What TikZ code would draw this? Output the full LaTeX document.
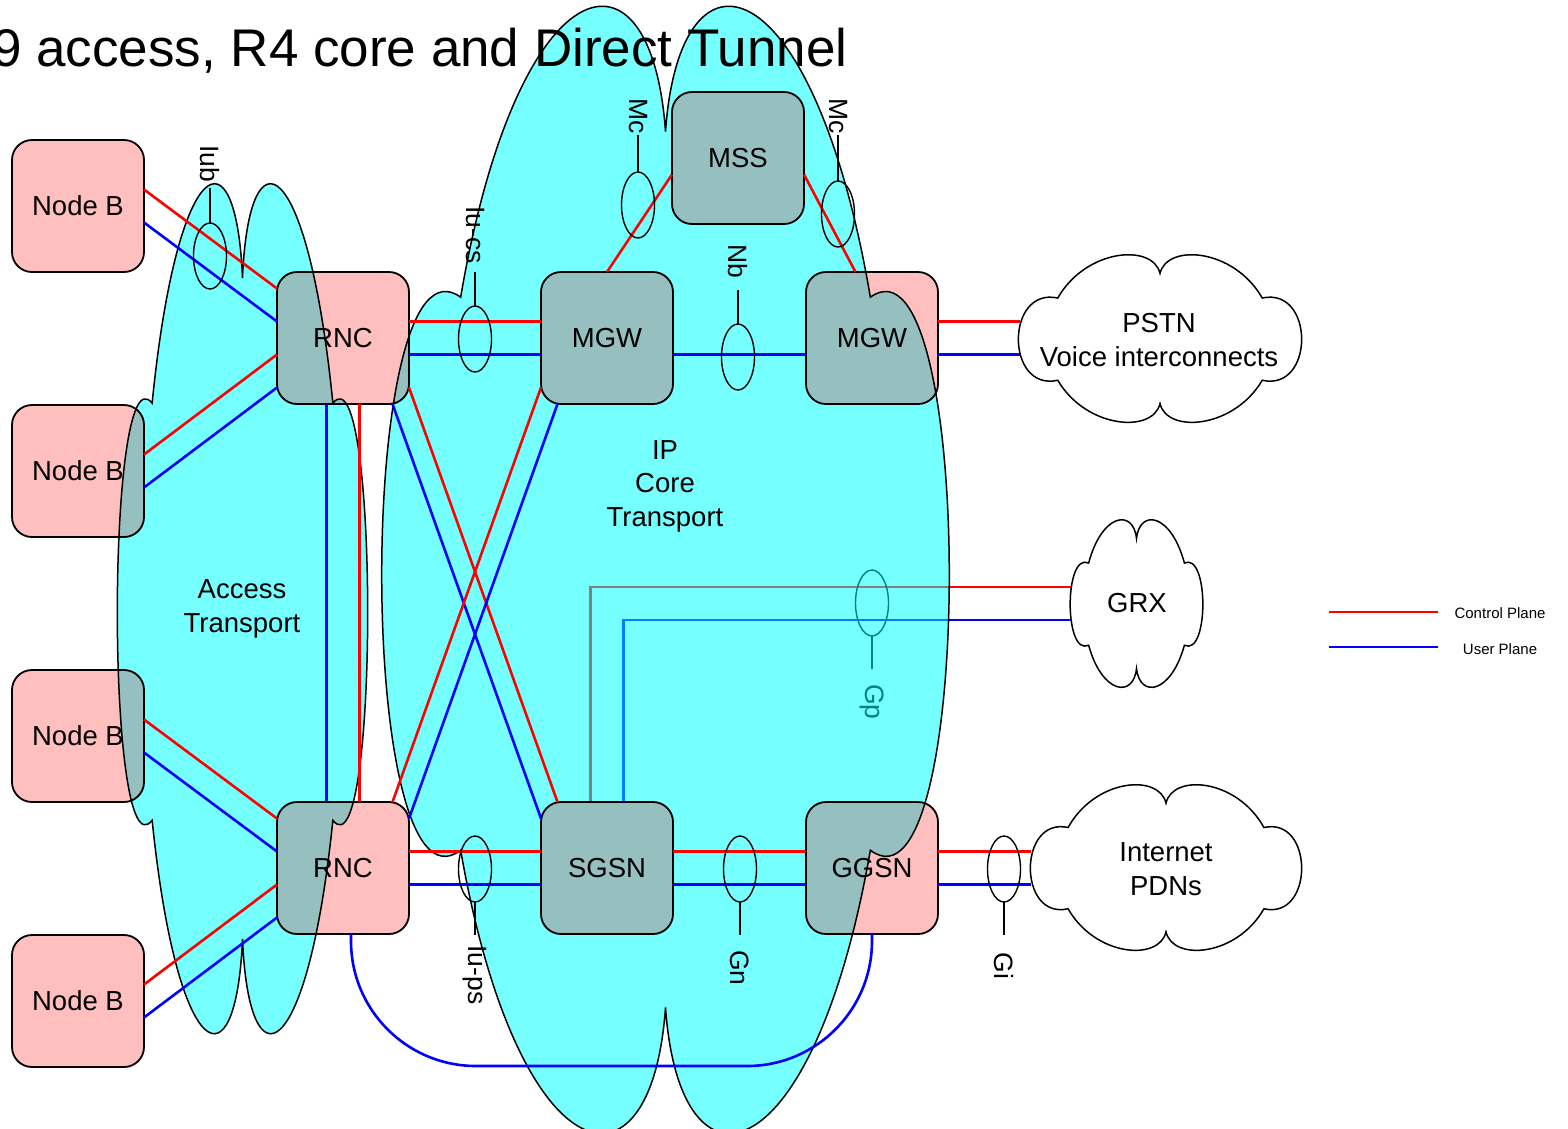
\documentclass[tikz,border=0pt]{standalone}
\usepackage{fontspec}
\setmainfont{Liberation Sans}
\usetikzlibrary{calc,shapes.geometric}
\pgfdeclarelayer{bg}
\pgfsetlayers{bg,main}

\definecolor{boxpink}{RGB}{255,191,191}
\definecolor{cloudcyan}{RGB}{118,255,255}
\definecolor{overlapc}{RGB}{150,191,191}
\definecolor{gpgray}{RGB}{128,128,128}
\definecolor{gpblue}{RGB}{0,128,255}
\definecolor{gpteal}{RGB}{0,128,128}

\tikzset{
  % one cloud outline in unit coordinates (y grows downwards)
  cloud/.style={insert path={
    (-0.72,-0.485) .. controls (-0.52,-1.08) and (-0.05,-1.14) .. (0,-0.78)
    .. controls (0.05,-1.14) and (0.52,-1.08) .. (0.72,-0.485)
    .. controls (1.09,-0.62) and (1.09,0.64) .. (0.72,0.50)
    .. controls (0.52,1.08) and (0.05,1.14) .. (0,0.78)
    .. controls (-0.05,1.14) and (-0.52,1.08) .. (-0.72,0.50)
    .. controls (-1.09,0.64) and (-1.09,-0.62) .. (-0.72,-0.485) -- cycle}},
  accesscl/.style={shift={(242.5,608.5)},xscale=125.5,yscale=423.5},
  corecl/.style={shift={(665.5,569.5)},xscale=284.5,yscale=561.5},
  pstncl/.style={shift={(1160,338.5)},xscale=142,yscale=83.5},
  grxcl/.style={shift={(1136.5,603.5)},xscale=66.5,yscale=83.5},
  inetcl/.style={shift={(1166,867.5)},xscale=136,yscale=82.5},
  cloudline/.style={line width=1.5pt},
  box/.style={draw, line width=1.8pt, rectangle, rounded corners=20pt,
    minimum width=132pt, minimum height=132pt, inner sep=0pt, outer sep=0pt,
    font=\fontsize{27.5}{33}\selectfont},
  cp/.style={red, line width=2.6pt},
  up/.style={blue, line width=2.6pt},
  iface/.style={ellipse, draw, line width=1.4pt, minimum width=33pt,
    minimum height=66pt, inner sep=0pt, outer sep=0pt},
  ifl/.style={rotate=-90, inner sep=0pt, font=\fontsize{26.5}{30}\selectfont},
  tick/.style={line width=1.4pt},
  cloudtext/.style={align=center, inner sep=0pt, font=\fontsize{27.5}{33.5}\selectfont},
  legendtext/.style={inner sep=0pt, font=\fontsize{15}{18}\selectfont}
}

\begin{document}
\begin{tikzpicture}[x=1pt,y=-1pt]
\useasboundingbox (0,0) rectangle (1568,1128);

% title
\node[anchor=base west, inner sep=0pt, font=\fontsize{53}{60}\selectfont]
  (title) at (-8,66) {9 access, R4 core and Direct Tunnel};

% network elements
\node[box] (nb1) at (78,206) {Node B};
\node[box] (nb2) at (78,471) {Node B};
\node[box] (nb3) at (78,736) {Node B};
\node[box] (nb4) at (78,1001) {Node B};
\node[box] (rnc1) at (343,338) {RNC};
\node[box] (rnc2) at (343,868) {RNC};
\node[box] (mgw1) at (607,338) {MGW};
\node[box] (mgw2) at (872,338) {MGW};
\node[box] (mss) at (738,158) {MSS};
\node[box] (sgsn) at (607,868) {SGSN};
\node[box] (ggsn) at (872,868) {GGSN};

% cloud edge points where external links end
\coordinate (pstnC) at (1019.5,321.5);
\coordinate (pstnU) at (1019.5,354.5);
\coordinate (grxC) at (1072,587);
\coordinate (grxU) at (1072,620);
\coordinate (inetC) at (1031,851.5);
\coordinate (inetU) at (1031,884.5);

% Node B -- RNC (Iub)
\draw[cp] ($(nb1.east)+(0,-16.5)$) -- ($(rnc1.west)+(0,-49.5)$);
\draw[up] ($(nb1.east)+(0,16.5)$) -- ($(rnc1.west)+(0,-16.5)$);
\draw[cp] ($(nb2.east)+(0,-16.5)$) -- ($(rnc1.west)+(0,16.5)$);
\draw[up] ($(nb2.east)+(0,16.5)$) -- ($(rnc1.west)+(0,49.5)$);
\draw[cp] ($(nb3.east)+(0,-16.5)$) -- ($(rnc2.west)+(0,-49.5)$);
\draw[up] ($(nb3.east)+(0,16.5)$) -- ($(rnc2.west)+(0,-16.5)$);
\draw[cp] ($(nb4.east)+(0,-16.5)$) -- ($(rnc2.west)+(0,16.5)$);
\draw[up] ($(nb4.east)+(0,16.5)$) -- ($(rnc2.west)+(0,49.5)$);

% RNC -- RNC
\draw[up] ($(rnc1.south)+(-16.5,0)$) -- ($(rnc2.north)+(-16.5,0)$);
\draw[cp] ($(rnc1.south)+(16.5,0)$) -- ($(rnc2.north)+(16.5,0)$);

% Iu-cs and Iu-ps
\draw[cp] ($(rnc1.east)+(0,-16.5)$) -- ($(mgw1.west)+(0,-16.5)$);
\draw[up] ($(rnc1.east)+(0,16.5)$) -- ($(mgw1.west)+(0,16.5)$);
\draw[cp] ($(rnc1.east)+(0,49.5)$) -- ($(sgsn.north)+(-49.5,0)$);
\draw[up] ($(rnc1.south)+(49.5,0)$) -- ($(sgsn.west)+(0,-49.5)$);
\draw[cp] ($(rnc2.north)+(49.5,0)$) -- ($(mgw1.west)+(0,49.5)$);
\draw[up] ($(rnc2.east)+(0,-49.5)$) -- ($(mgw1.south)+(-49.5,0)$);
\draw[cp] ($(rnc2.east)+(0,-16.5)$) -- ($(sgsn.west)+(0,-16.5)$);
\draw[up] ($(rnc2.east)+(0,16.5)$) -- ($(sgsn.west)+(0,16.5)$);

% core links
\draw[cp] ($(mss.west)+(0,16.5)$) -- (mgw1.north);
\draw[cp] ($(mss.east)+(0,16.5)$) -- ($(mgw2.north)+(-16.5,0)$);
\draw[up] ($(mgw1.east)+(0,16.5)$) -- ($(mgw2.west)+(0,16.5)$);
\draw[cp] ($(sgsn.east)+(0,-16.5)$) -- ($(ggsn.west)+(0,-16.5)$);
\draw[up] ($(sgsn.east)+(0,16.5)$) -- ($(ggsn.west)+(0,16.5)$);

% external links
\draw[cp] ($(mgw2.east)+(0,-16.5)$) -- (pstnC);
\draw[up] ($(mgw2.east)+(0,16.5)$) -- (pstnU);
\draw[cp] ($(ggsn.east)+(0,-16.5)$) -- (inetC);
\draw[up] ($(ggsn.east)+(0,16.5)$) -- (inetU);

% direct tunnel
\draw[up, rounded corners=125pt] ($(rnc2.south)+(8,0)$) -- ++(0,132) -| (ggsn.south);

% interface markers
\node[iface] (eIub) at (210,256) {};
\coordinate (tIub) at (210,188);
\draw[tick] (eIub.north) -- (tIub);
\node[ifl] (lIub) at (210,164) {Iub};

\node[iface] (eIucs) at (475,339) {};
\coordinate (tIucs) at (475,272);
\draw[tick] (eIucs.north) -- (tIucs);
\node[ifl] (lIucs) at (475,235) {Iu-cs};

\node[iface] (eMc1) at (638,205) {};
\coordinate (tMc1) at (638,135);
\draw[tick] (eMc1.north) -- (tMc1);
\node[ifl] (lMc1) at (638,116) {Mc};

\node[iface] (eMc2) at (838,214) {};
\coordinate (tMc2) at (838,135);
\draw[tick] (eMc2.north) -- (tMc2);
\node[ifl] (lMc2) at (838,116) {Mc};

\node[iface] (eNb) at (738,357) {};
\coordinate (tNb) at (738,290);
\draw[tick] (eNb.north) -- (tNb);
\node[ifl] (lNb) at (738,261) {Nb};

\node[iface] (eIups) at (475,869) {};
\coordinate (tIups) at (475,935);
\draw[tick] (eIups.south) -- (tIups);
\node[ifl] (lIups) at (475,975) {Iu-ps};

\node[iface] (eGn) at (740,869) {};
\coordinate (tGn) at (740,935);
\draw[tick] (eGn.south) -- (tGn);
\node[ifl] (lGn) at (740,968) {Gn};

\node[iface] (eGi) at (1004,869) {};
\coordinate (tGi) at (1004,935);
\draw[tick] (eGi.south) -- (tGi);
\node[ifl] (lGi) at (1004,966) {Gi};

\node[iface, draw=gpteal] (eGp) at (872,603) {};
\coordinate (tGp) at (872,669);
\draw[tick, gpteal] (eGp.south) -- (tGp);
\node[ifl, text=gpteal] (lGp) at (872,702) {Gp};

% cloud captions
\node[cloudtext] (acc) at (242,609) {Access\\Transport};
\node[cloudtext] (ipc) at (665,486) {IP\\Core\\Transport};
\node[cloudtext] (pstn) at (1159,340) {PSTN\\Voice interconnects};
\node[cloudtext] (grx) at (1137,603) {GRX};
\node[cloudtext] (inet) at (1166,869) {Internet\\PDNs};

% legend
\coordinate (lgC1) at (1329,612);
\coordinate (lgC2) at (1438,612);
\coordinate (lgU1) at (1329,647);
\coordinate (lgU2) at (1438,647);
\draw[red, line width=2pt] (lgC1) -- (lgC2);
\draw[blue, line width=2pt] (lgU1) -- (lgU2);
\node[legendtext] (lgCt) at (1500,613) {Control Plane};
\node[legendtext] (lgUt) at (1500,649) {User Plane};

\begin{pgfonlayer}{bg}
  % transport clouds
  \fill[cloudcyan, accesscl, cloud];
  \fill[cloudcyan, corecl, cloud];
  % Gp links run beneath the core cloud tint
  \draw[cp] ($(sgsn.north)+(-16.5,0)$) |- (grxC);
  \draw[up] ($(sgsn.north)+(16.5,0)$) |- (grxU);
  \begin{scope}
    \clip[corecl, cloud];
    \draw[cp, draw=gpgray] ($(sgsn.north)+(-16.5,0)$) |- (grxC);
    \draw[up, draw=gpblue] ($(sgsn.north)+(16.5,0)$) |- (grxU);
  \end{scope}
  % element fills
  \foreach \b in {nb1,nb2,nb3,nb4,rnc1,rnc2,mgw1,mgw2,mss,sgsn,ggsn}
    \fill[boxpink, rounded corners=20pt] (\b.south west) rectangle (\b.north east);
  \begin{scope}
    \clip[accesscl, cloud];
    \foreach \b in {nb1,nb2,nb3,nb4,rnc1,rnc2}
      \fill[overlapc, rounded corners=20pt] (\b.south west) rectangle (\b.north east);
  \end{scope}
  \begin{scope}
    \clip[corecl, cloud];
    \foreach \b in {rnc1,rnc2,mgw1,mgw2,mss,sgsn,ggsn}
      \fill[overlapc, rounded corners=20pt] (\b.south west) rectangle (\b.north east);
  \end{scope}
  % cloud outlines
  \draw[cloudline, accesscl, cloud];
  \draw[cloudline, corecl, cloud];
  \filldraw[cloudline, fill=white, pstncl, cloud];
  \filldraw[cloudline, fill=white, grxcl, cloud];
  \filldraw[cloudline, fill=white, inetcl, cloud];
\end{pgfonlayer}
\end{tikzpicture}
\end{document}
